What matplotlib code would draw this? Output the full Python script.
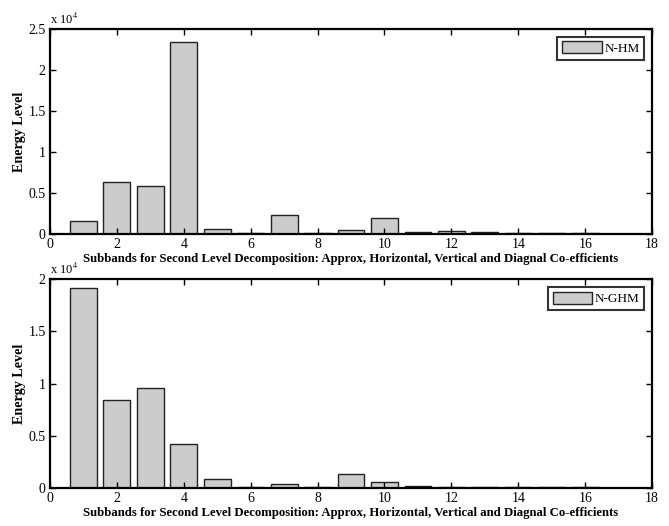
import matplotlib
matplotlib.use('Agg')
import matplotlib.pyplot as plt
from matplotlib.ticker import FuncFormatter, MultipleLocator

plt.rcParams['font.family'] = ['Liberation Serif', 'DejaVu Serif']
plt.rcParams['mathtext.fontset'] = 'stix'

subbands = list(range(1, 17))
energy_nhm = [1650, 6330, 5880, 23400, 570, 120, 2290, 120,
              500, 1960, 200, 410, 200, 100, 80, 80]
energy_nghm = [19140, 8400, 9580, 4250, 860, 100, 420, 100,
               1310, 610, 190, 70, 60, 60, 60, 60]
X_LABEL = 'Subbands for Second Level Decomposition: Approx, Horizontal, Vertical and Diagnal Co-efficients'
SCALE = 1e4


def drawPanel(ax, values, name, ymax):
    ax.bar(subbands, values, width=0.8, color='#cccccc', edgecolor='#222222',
           linewidth=1.0, label=name)
    ax.set_xlim(0, 18)
    ax.set_ylim(0, ymax)
    ax.xaxis.set_major_locator(MultipleLocator(2))
    ax.yaxis.set_major_locator(MultipleLocator(5000))
    ax.yaxis.set_major_formatter(FuncFormatter(lambda v, p: '%g' % (v / SCALE)))
    ax.tick_params(direction='in', top=True, right=True, length=4, width=1,
                   labelsize=10, pad=3)
    for s in ax.spines.values():
        s.set_linewidth(1.6)
    ax.set_ylabel('Energy Level', fontweight='bold', fontsize=10.2, labelpad=2)
    ax.set_xlabel(X_LABEL, fontweight='bold', fontsize=9.2, labelpad=1)
    ax.text(0.0, 1.01, r'x 10$^{4}$', transform=ax.transAxes, fontsize=9,
            ha='left', va='bottom')
    leg = ax.legend(loc='upper right', fancybox=False, fontsize=9.5,
                    handlelength=3.0, handleheight=1.0, borderaxespad=0.6,
                    borderpad=0.35, handletextpad=0.2)
    leg.get_frame().set_edgecolor('black')
    leg.get_frame().set_linewidth(1.5)


fig = plt.figure(figsize=(6.69, 5.26), dpi=100)
ax1 = fig.add_axes([0.0747, 0.555, 0.900, 0.390])
ax2 = fig.add_axes([0.0747, 0.0722, 0.900, 0.397])
drawPanel(ax1, energy_nhm, 'N-HM', 25000)
drawPanel(ax2, energy_nghm, 'N-GHM', 20000)
fig.savefig('out.png', dpi=100)
